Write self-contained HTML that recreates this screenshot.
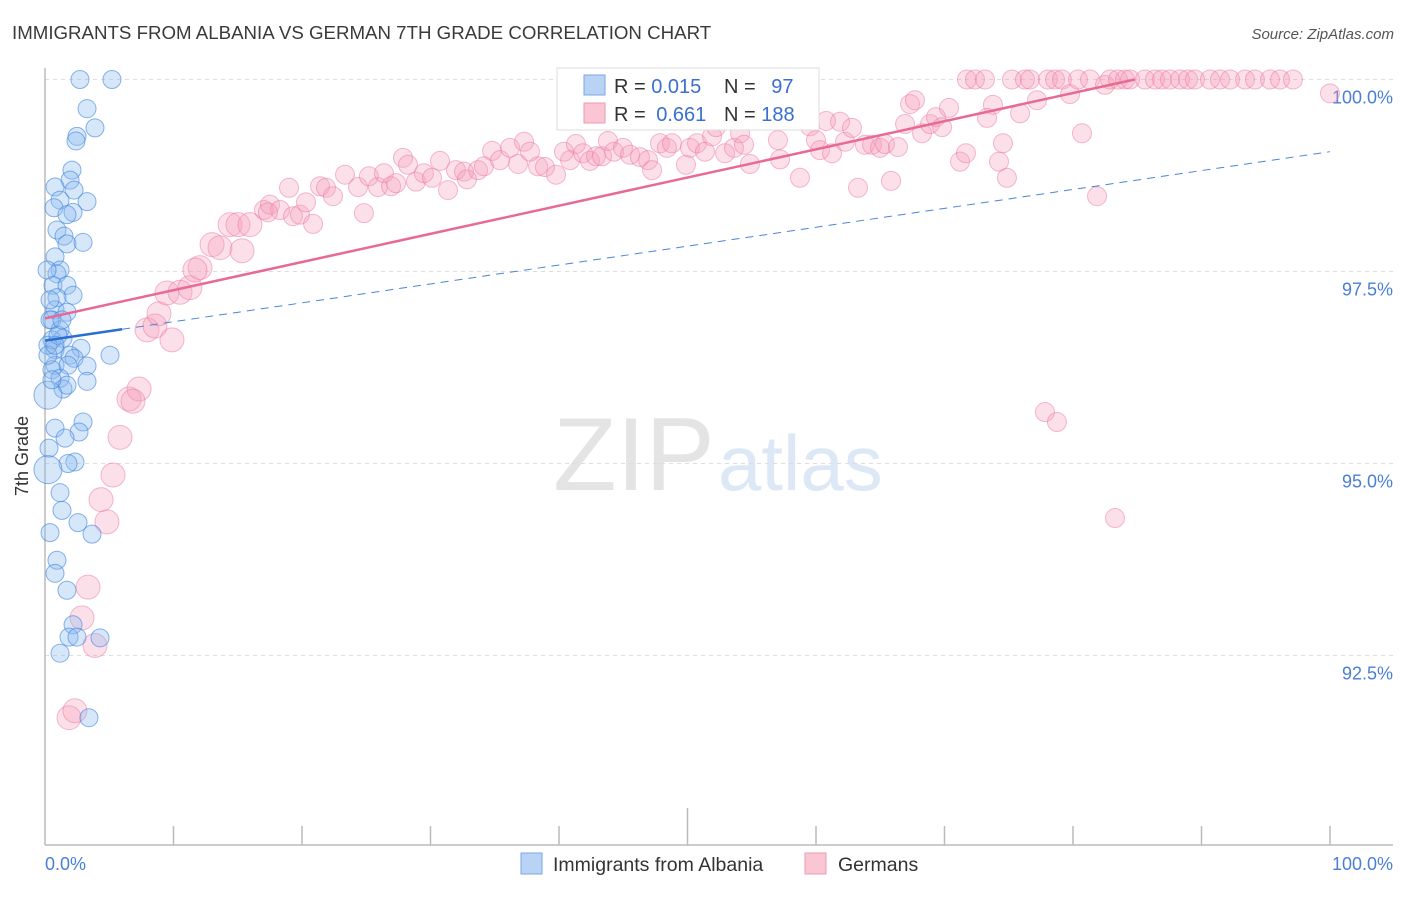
<!DOCTYPE html>
<html><head><meta charset="utf-8"><style>
body{margin:0;background:#fff;font-family:"Liberation Sans",sans-serif;}
svg text{font-family:"Liberation Sans",sans-serif;}
</style></head><body>
<svg id="chart" width="1406" height="892" xmlns="http://www.w3.org/2000/svg">
<text x="12" y="39" font-size="18.7" fill="#3a3a3a">IMMIGRANTS FROM ALBANIA VS GERMAN 7TH GRADE CORRELATION CHART</text>
<text x="1394" y="39" font-size="15" fill="#555" font-style="italic" text-anchor="end">Source: ZipAtlas.com</text>
<g>
<text x="553" y="490" font-size="104" fill="#e4e4e4" font-family="Liberation Serif, serif">ZIP</text>
<text x="718" y="490" font-size="78" fill="#dde8f6">atlas</text>
</g>
<g id="grid"></g>
<line x1="45" y1="68" x2="45" y2="845" stroke="#bbb" stroke-width="1.5"/>
<line x1="45" y1="845" x2="1393" y2="845" stroke="#bbb" stroke-width="1.5"/>
<g id="ticks"></g>
<text x="28" y="456" font-size="18" fill="#333" text-anchor="middle" transform="rotate(-90 28 456)">7th Grade</text>
<text x="45" y="870" font-size="18" fill="#4a7fd6">0.0%</text>
<text x="1393" y="870" font-size="18" fill="#4a7fd6" text-anchor="end">100.0%</text>
<g id="pinkpts"></g>
<g id="bluepts"></g>
<g id="lines"></g>
<g>
<rect x="557" y="68" width="262" height="62" fill="#fff" stroke="#ddd"/>
<rect x="584" y="75" width="21" height="20" fill="#b9d3f5" stroke="#7aa6e6"/>
<rect x="584" y="103" width="21" height="20" fill="#fbc6d4" stroke="#ec9ab2"/>
<text x="614" y="93" font-size="20" fill="#333">R = <tspan fill="#3a6fd0">0.015</tspan></text>
<text x="724" y="93" font-size="20" fill="#333">N = <tspan fill="#3a6fd0" dx="10">97</tspan></text>
<text x="614" y="121" font-size="20" fill="#333">R = <tspan fill="#3a6fd0" dx="5">0.661</tspan></text>
<text x="724" y="121" font-size="20" fill="#333">N = <tspan fill="#3a6fd0">188</tspan></text>
</g>
<g>
<rect x="521" y="853" width="21" height="21" fill="#b9d3f5" stroke="#7aa6e6"/>
<text x="553" y="871" font-size="19.5" fill="#333">Immigrants from Albania</text>
</g>
<g>
<rect x="805" y="853" width="21" height="21" fill="#fbc6d4" stroke="#ec9ab2"/>
<text x="838" y="871" font-size="19.5" fill="#333">Germans</text>
</g>
</svg>
<script>
const yTicks=[100,97.5,95,92.5];
const yTickLabels=["100.0%","97.5%","95.0%","92.5%"];
const xTicks=[0,10,20,30,40,50,60,70,80,90,100];
const blueX=[2.72,5.21,3.27,3.89,2.49,2.41,2.10,1.95,0.78,2.26,1.17,3.27,0.70,2.18,1.71,0.93,1.48,1.71,2.96,0.78,1.17,0.93,0.62,1.71,2.18,0.93,0.78,1.71,0.54,1.17,1.40,2.80,0.78,1.95,2.26,5.06,0.78,1.79,3.27,0.54,1.17,3.27,1.40,1.71,0.23,2.96,0.78,2.65,1.56,2.33,1.79,0.31,0.23,1.17,1.32,2.57,3.66,0.39,0.93,0.78,1.71,2.18,1.87,2.49,4.28,1.17,3.42,0.39,0.54,0.23,1.01,0.39,0.23,0.54,1.32,0.16,0.78];
const blueY=[100,100,99.62,99.37,99.26,99.20,98.82,98.69,98.60,98.56,98.43,98.41,98.33,98.27,98.24,98.04,97.96,97.86,97.88,97.69,97.52,97.47,97.32,97.32,97.19,97.16,97.00,96.97,96.87,96.74,96.63,96.50,96.48,96.41,96.37,96.41,96.28,96.28,96.27,96.22,96.11,96.07,95.97,96.02,95.89,95.54,95.46,95.41,95.33,95.02,95.00,95.20,94.92,94.62,94.39,94.23,94.08,94.10,93.74,93.57,93.35,92.90,92.74,92.74,92.73,92.53,91.69,96.87,96.61,96.54,96.67,97.13,96.41,96.09,96.87,97.52,96.54];
const pinkX=[1.87,2.33,3.89,2.88,3.35,4.82,4.36,5.29,5.84,6.54,7.32,6.85,7.94,9.88,8.56,8.87,9.49,10.51,11.28,12.06,11.67,13.00,13.62,15.33,14.40,15.02,15.95,17.04,17.51,18.29,19.30,19.84,20.86,17.35,18.99,20.31,21.40,21.87,22.41,23.35,24.36,24.82,25.21,25.91,26.38,26.93,27.32,27.86,28.25,28.87,29.49,30.12,30.74,31.36,31.98,32.61,32.84,33.70,34.16,34.79,35.41,36.19,36.81,37.28,37.74,38.37,38.91,39.77,40.39,40.86,41.32,41.87,42.41,42.88,43.35,43.81,44.28,44.98,45.53,46.30,46.93,47.24,47.86,48.40,48.79,49.88,50.19,50.74,51.36,51.91,52.22,52.92,53.62,54.09,54.40,54.86,55.41,55.80,57.04,57.20,57.98,58.37,58.75,59.53,60.00,60.31,60.78,61.25,61.87,62.26,62.80,63.27,63.81,64.36,64.98,65.37,65.84,66.38,66.93,67.32,67.70,68.25,68.87,69.34,69.81,70.35,71.21,71.67,71.75,72.37,73.15,73.77,74.24,74.86,75.25,75.88,76.26,76.65,77.20,78.05,78.60,79.14,79.77,80.39,80.70,81.32,81.87,82.49,82.88,83.50,84.05,84.44,85.60,86.38,86.93,87.55,88.33,88.95,89.49,90.66,91.44,92.22,93.39,94.16,95.33,96.11,97.12,100,77.82,78.75,83.27,74.55,73.31];
const pinkY=[91.69,91.78,92.63,92.99,93.39,94.24,94.53,94.85,95.34,95.84,95.97,95.81,96.74,96.61,96.79,96.95,97.22,97.23,97.29,97.55,97.52,97.85,97.81,97.77,98.11,98.11,98.11,98.30,98.37,98.30,98.22,98.24,98.12,98.27,98.59,98.40,98.61,98.59,98.48,98.76,98.60,98.26,98.74,98.60,98.78,98.61,98.65,98.98,98.89,98.67,98.78,98.72,98.94,98.56,98.82,98.80,98.70,98.82,98.87,99.07,98.95,99.11,98.90,99.19,99.06,98.87,98.86,98.76,99.06,98.95,99.16,99.04,98.94,99.00,99.00,99.20,99.06,99.11,99.02,98.99,98.95,98.82,99.17,99.11,99.17,98.89,99.11,99.17,99.06,99.26,99.38,99.04,99.11,99.30,99.15,98.90,99.49,99.54,99.21,98.96,99.54,99.60,98.72,99.39,99.21,99.08,99.46,99.04,99.45,99.19,99.37,98.59,99.15,99.15,99.11,99.16,98.68,99.12,99.42,99.68,99.73,99.30,99.42,99.51,99.38,99.63,98.93,99.04,100,100,100,99.67,98.93,98.72,100,99.56,100,100,99.73,100,100,100,99.81,100,99.30,100,98.48,99.93,100,100,100,100,100,100,100,100,100,100,100,100,100,100,100,100,100,100,100,99.82,95.67,95.54,94.29,99.17,99.50];
const pinkTrend=[96.89,100];
const pinkTrendEnd=84.8;
const blueTrend=[96.6,99.06];
const blueSolidEnd=6;

const NS="http://www.w3.org/2000/svg";
const X0=45,X1=1330,Ytop=79.5,PX_PER=76.8;
function sx(v){return X0+(X1-X0)*v/100;}
function sy(v){return Ytop+(100-v)*PX_PER;}
function mk(tag,attrs,parent){const e=document.createElementNS(NS,tag);for(const k in attrs)e.setAttribute(k,attrs[k]);parent.appendChild(e);return e;}

const grid=document.getElementById('grid');
yTicks.forEach((t,i)=>{
  const l=mk('line',{x1:45,x2:1393,y1:sy(t),y2:sy(t),stroke:'#ddd','stroke-dasharray':'4,4'},grid);
  
  
  const tx=mk('text',{x:1393,y:sy(t)+24,'font-size':18,fill:'#4a7fd6','text-anchor':'end'},grid);
  tx.textContent=yTickLabels[i];
  
  
});
const ticks=document.getElementById('ticks');
xTicks.forEach((t,i)=>{
  if(i===0)return;
  const len=(t===50)?37:19;
  const l=mk('line',{x1:sx(t),x2:sx(t),y1:845-len,y2:845,stroke:'#bbb','stroke-width':1.5},ticks);
  
  
});
const pg=document.getElementById('pinkpts');
pinkX.forEach((x,i)=>{
  const r=x<16?12:9.5;
  const c=mk('circle',{cx:sx(x),cy:sy(pinkY[i]),r:r,fill:'rgba(247,160,186,0.32)',stroke:'rgba(236,120,155,0.5)','stroke-width':1},pg);
  
  
});
const bg=document.getElementById('bluepts');
blueX.forEach((x,i)=>{
  const big=(x<0.35&&(blueY[i]>95.8&&blueY[i]<96||blueY[i]<95));
  const c=mk('circle',{cx:sx(x),cy:sy(blueY[i]),r:big?14:9,fill:'rgba(140,185,240,0.35)',stroke:'rgba(60,130,220,0.6)','stroke-width':1},bg);
  
  
});
const lg=document.getElementById('lines');
const bY=v=>blueTrend[0]+(blueTrend[1]-blueTrend[0])*v/100;
const bd=mk('line',{x1:sx(blueSolidEnd),y1:sy(bY(blueSolidEnd)),x2:sx(100),y2:sy(bY(100)),stroke:'#4a85d8','stroke-width':1,'stroke-dasharray':'8,6'},lg);


const bs=mk('line',{x1:sx(0),y1:sy(bY(0)),x2:sx(blueSolidEnd),y2:sy(bY(blueSolidEnd)),stroke:'#2a6fd0','stroke-width':2.5},lg);


const pl=mk('line',{x1:sx(0),y1:sy(pinkTrend[0]),x2:sx(pinkTrendEnd),y2:sy(pinkTrend[1]),stroke:'#e86a93','stroke-width':2.5},lg);


</script>
</body></html>
